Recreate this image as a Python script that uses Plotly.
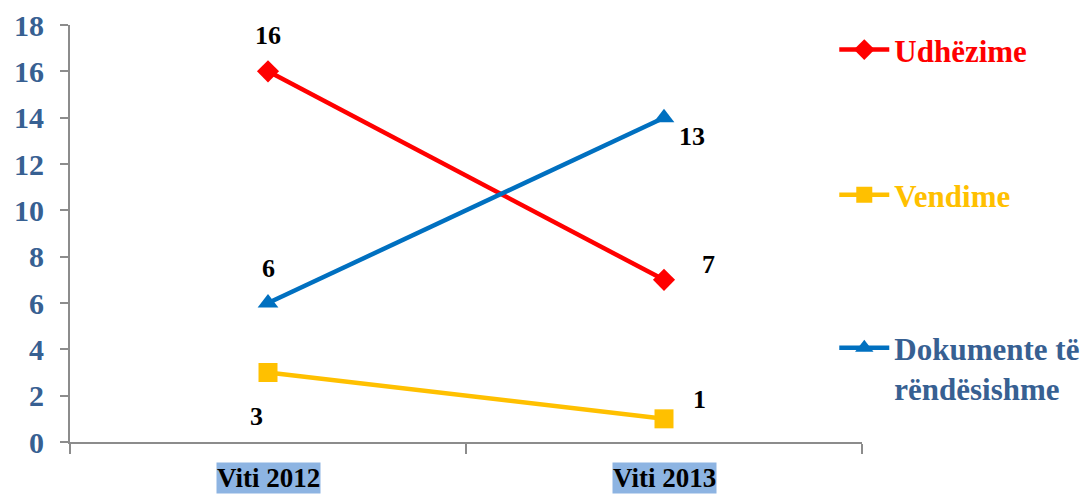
import plotly.graph_objects as go

categories = ["Viti 2012", "Viti 2013"]
udhezime = [16, 7]
vendime = [3, 1]
dokumente = [6, 14]
udhezime_labels = ["16", "7"]
vendime_labels = ["3", "1"]
dokumente_labels = ["6", "13"]

SERIF = "Liberation Serif"
RED = "#FF0000"
YEL = "#FFC000"
BLUE = "#0070C0"
AXTXT = "#376092"


def boldfont(color, size):
    return dict(family=SERIF, size=size, color=color, weight="bold")


fig = go.Figure()
fig.add_trace(go.Scatter(
    x=categories, y=udhezime, mode="lines+markers", name="Udhëzime",
    line=dict(color=RED, width=4.5),
    marker=dict(symbol="diamond", size=17, color=RED), legend="legend"))
fig.add_trace(go.Scatter(
    x=categories, y=vendime, mode="lines+markers", name="Vendime",
    line=dict(color=YEL, width=4.5),
    marker=dict(symbol="square", size=19, color=YEL), legend="legend2"))
fig.add_trace(go.Scatter(
    x=categories, y=dokumente, mode="lines+markers", name="Dokumente të<br>rëndësishme",
    line=dict(color=BLUE, width=4.5),
    marker=dict(symbol="triangle-up", size=18, color=BLUE), legend="legend3"))

offsets = {
    "u": [(0, 36), (44, 15)],
    "v": [(-12, -44), (35, 19)],
    "d": [(0, 35), (28, -19)],
}
for key, vals, labs in (("u", udhezime, udhezime_labels),
                        ("v", vendime, vendime_labels),
                        ("d", dokumente, dokumente_labels)):
    for i, (c, v, t) in enumerate(zip(categories, vals, labs)):
        dx, dy = offsets[key][i]
        fig.add_annotation(x=c, y=v, text=t, showarrow=False,
                           xshift=dx, yshift=dy, font=boldfont("black", 26))

for c in categories:
    fig.add_annotation(x=c, y=-0.087, yref="paper", text=c,
                       showarrow=False, yanchor="middle",
                       bgcolor="#8DB4E2", borderpad=0, font=boldfont("black", 27))

fig.update_xaxes(
    type="category", categoryorder="array", categoryarray=categories,
    range=[-0.5, 1.5], showticklabels=False,
    showline=True, linecolor="#8C8C8C", linewidth=2,
    ticks="outside", tickson="boundaries", ticklen=10, tickcolor="#8C8C8C", tickwidth=2,
    showgrid=False, zeroline=False, automargin=False)
fig.update_yaxes(
    range=[0, 18], dtick=2, showline=True, linecolor="#8C8C8C", linewidth=2,
    ticks="outside", ticklen=8, tickcolor="#8C8C8C", tickwidth=2,
    showgrid=False, zeroline=False, ticklabelstandoff=10, automargin=False,
    tickfont=boldfont(AXTXT, 30))

common = dict(x=0.965, xanchor="left", yanchor="top", valign="top",
              bgcolor="rgba(0,0,0,0)", itemwidth=50)

# the page body has an 8px margin, so the figure is sized/offset to compensate
fig.update_layout(
    width=1083, height=488,
    margin=dict(l=62, r=229, t=17, b=54, autoexpand=False),
    plot_bgcolor="white", paper_bgcolor="white",
    showlegend=True,
    legend=dict(y=1.005, font=boldfont(RED, 31), **common),
    legend2=dict(y=0.657, font=boldfont(YEL, 31), **common),
    legend3=dict(y=0.29, font=boldfont(AXTXT, 31), **common),
)

fig.write_html("out.html")
